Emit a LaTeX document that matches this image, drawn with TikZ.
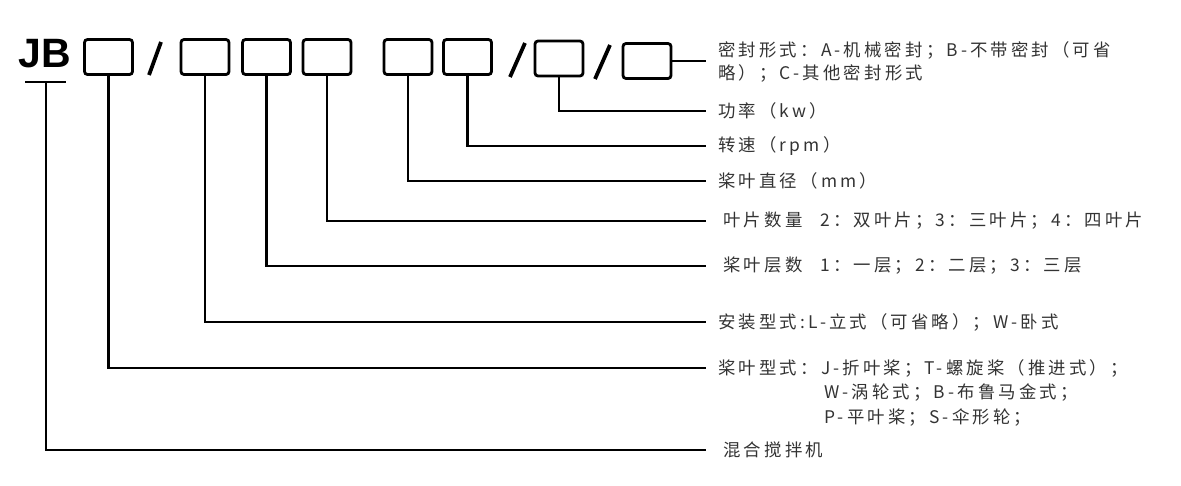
\documentclass[tikz,border=0pt]{standalone}
\usepackage{fontspec}
\newfontfamily\cjk[LetterSpace=18]{Noto Sans CJK SC}
\newfontfamily\codefont{Liberation Sans}
\begin{document}
\begin{tikzpicture}[x=1pt, y=-1pt, line width=2.8pt,
  slot/.style={draw, rounded corners=3pt, minimum width=48pt, minimum height=35pt, inner sep=0pt},
  sym/.style={inner sep=0pt, font=\codefont\bfseries\fontsize{41pt}{41pt}\selectfont},
  slash/.style={line width=3.8pt},
  txt/.style={anchor=west, inner xsep=11pt, inner ysep=0pt, text=black!80,
    font=\cjk\fontsize{17.4pt}{25pt}\selectfont}]
  \useasboundingbox (0,0) rectangle (1181,485);
  % model code
  \node[sym] (jb) at (45,54) {JB};
  \node[slot] (b1) at (108.5,57) {};
  \node[slot] (b2) at (205,57) {};
  \node[slot] (b3) at (266.5,57) {};
  \node[slot] (b4) at (327,57) {};
  \node[slot] (b5) at (408,57) {};
  \node[slot] (b6) at (467.5,57) {};
  \node[slot] (b7) at (559,58.5) {};
  \node[slot] (b8) at (647,61) {};
  \draw[slash] (149,75) -- (161,42);
  \draw[slash] (510,77) -- (525,43);
  \draw[slash] (595,79) -- (610,45);
  \draw (25,82) -- (66,82);
  \coordinate (t0) at (46,82);
  % meanings
  \node[txt] (l1) at (706,50) {密封形式：A-机械密封；B-不带密封（可省};
  \node[txt] (l1b) at (706,73) {略）；C-其他密封形式};
  \node[txt] (l2) at (706,111) {功率（kw）};
  \node[txt] (l3) at (706,146) {转速（rpm）};
  \node[txt] (l4) at (706,181) {桨叶直径（mm）};
  \node[txt] (l5) at (706,221) {\hspace*{5pt}叶片数量\hspace{18pt}2：双叶片；3：三叶片；4：四叶片};
  \node[txt] (l6) at (706,266) {\hspace*{5pt}桨叶层数\hspace{18pt}1：一层；2：二层；3：三层};
  \node[txt] (l7) at (706,322) {安装型式:L-立式（可省略）；W-卧式};
  \node[txt] (l8) at (706,368) {桨叶型式：J-折叶桨；T-螺旋桨（推进式）；};
  \node[txt] (l8b) at (812,393) {W-涡轮式；B-布鲁马金式；};
  \node[txt] (l8c) at (812,418) {P-平叶桨；S-伞形轮；};
  \node[txt] (l9) at (706,450) {\hspace*{5pt}混合搅拌机};
  % leaders
  \draw (b8.east) -- (b8.east -| l1.west);
  \draw (b7.south) |- (l2.west);
  \draw (b6.south) |- (l3.west);
  \draw (b5.south) |- (l4.west);
  \draw (b4.south) |- (l5.west);
  \draw (b3.south) |- (l6.west);
  \draw (b2.south) |- (l7.west);
  \draw (b1.south) |- (l8.west);
  \draw (t0) |- (l9.west);
\end{tikzpicture}
\end{document}
